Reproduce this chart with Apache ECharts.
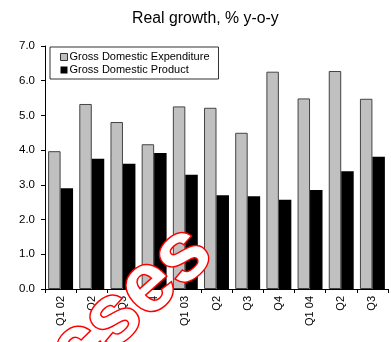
<!DOCTYPE html>
<html>
<head>
<meta charset="utf-8">
<script src="https://cdn.jsdelivr.net/npm/echarts@6/dist/echarts.min.js"></script>
<style>
  html, body { margin: 0; padding: 0; background: #fff; }
  #main { width: 391px; height: 342px; }
</style>
</head>
<body>
<div id="main"></div>
<script>
// quarters
var categories = ['Q1 02', 'Q2', 'Q3', 'Q4', 'Q1 03', 'Q2', 'Q3', 'Q4', 'Q1 04', 'Q2', 'Q3'];
// real growth, % y-o-y
var gdeValues = [3.97, 5.33, 4.81, 4.17, 5.26, 5.22, 4.50, 6.26, 5.49, 6.28, 5.48];
var gdpValues = [2.90, 3.75, 3.61, 3.92, 3.29, 2.70, 2.67, 2.57, 2.85, 3.39, 3.81];
var yTicks = [0, 1, 2, 3, 4, 5, 6, 7];

var font = 'Liberation Sans, Arial, sans-serif';
var chart = echarts.init(document.getElementById('main'));

var option = {
  animation: false,
  title: {
    text: 'Real growth, % y-o-y',
    left: 127,
    top: 6,
    textStyle: { fontFamily: font, fontSize: 15.8, fontWeight: 'normal', color: '#000' }
  },
  legend: {
    orient: 'vertical',
    left: 50,
    top: 47,
    padding: [4, 9, 3, 10],
    itemGap: 1,
    itemWidth: 7,
    itemHeight: 7,
    backgroundColor: '#fff',
    borderColor: '#333',
    borderWidth: 1,
    borderRadius: 0,
    textStyle: { fontFamily: font, fontSize: 11, color: '#000', padding: [0, 0, 0, -3], lineHeight: 12 },
    data: [
      { name: 'Gross Domestic Expenditure', icon: 'rect', itemStyle: { color: '#c0c0c0', borderColor: '#333', borderWidth: 1 } },
      { name: 'Gross Domestic Product', icon: 'rect', itemStyle: { color: '#000' } }
    ]
  },
  grid: { left: 45, right: 3, top: 46, bottom: 53 },
  xAxis: {
    type: 'category',
    data: categories,
    axisLine: { lineStyle: { color: '#000', width: 1 } },
    axisTick: { show: true, inside: false, length: 4, alignWithLabel: false, lineStyle: { color: '#000' } },
    axisLabel: { rotate: 90, fontFamily: font, fontSize: 11, color: '#000', margin: 7, interval: 0 }
  },
  yAxis: {
    type: 'value',
    min: yTicks[0],
    max: yTicks[yTicks.length - 1],
    interval: 1,
    splitLine: { show: false },
    axisLine: { show: true, lineStyle: { color: '#000', width: 1 } },
    axisTick: { show: true, length: 4, lineStyle: { color: '#000' } },
    axisLabel: {
      fontFamily: font, fontSize: 11.5, color: '#000', margin: 10,
      formatter: function (v) { return v.toFixed(1); }
    }
  },
  series: [
    {
      name: 'Gross Domestic Expenditure',
      type: 'bar',
      data: gdeValues,
      barGap: '0%',
      barCategoryGap: '20%',
      itemStyle: { color: '#c0c0c0', borderColor: '#444', borderWidth: 1 }
    },
    {
      name: 'Gross Domestic Product',
      type: 'bar',
      data: gdpValues,
      barGap: '0%',
      barCategoryGap: '20%',
      itemStyle: { color: '#000' }
    }
  ],
  graphic: [
    {
      type: 'text',
      x: 131,
      y: 303,
      rotation: 42 * Math.PI / 180,
      z: 100,
      style: {
        text: 'cses',
        align: 'center',
        verticalAlign: 'middle',
        font: 'bold 84px Liberation Sans, Arial, sans-serif',
        fill: '#fff',
        stroke: '#f00',
        lineWidth: 3
      }
    }
  ]
};

chart.setOption(option);
</script>
</body>
</html>
